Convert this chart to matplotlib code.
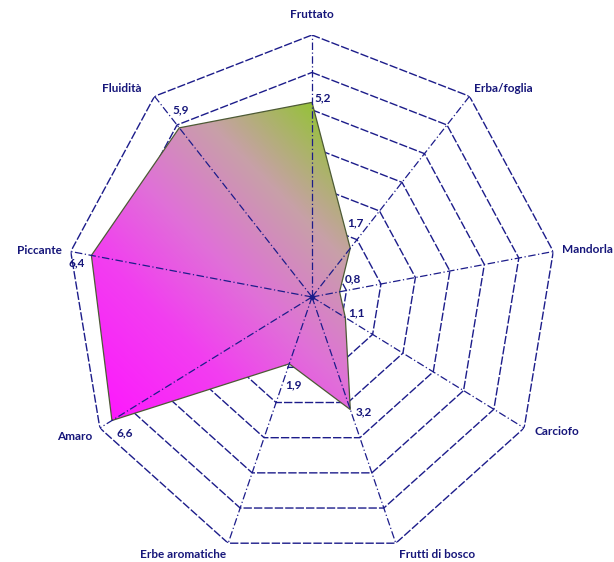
# radar chart (nonagon) with gradient fill
import numpy as np
import matplotlib
matplotlib.use("Agg")
from matplotlib import pyplot as plt
from matplotlib.colors import LinearSegmentedColormap

categories = ["Fruttato", "Erba/foglia", "Mandorla", "Carciofo", "Frutti di bosco",
              "Erbe aromatiche", "Amaro", "Piccante", "Fluidità"]
values = [5.2, 1.7, 0.8, 1.1, 3.2, 1.9, 6.6, 6.4, 5.9]
value_labels = ["5,2", "1,7", "0,8", "1,1", "3,2", "1,9", "6,6", "6,4", "5,9"]
rings = [1, 2, 3, 4, 5, 6, 7]

navy = "#1c1c8a"
text_col = "#16167a"
plt.rcParams["font.family"] = ["Lato", "DejaVu Sans"]

fig = plt.figure(figsize=(6.14, 5.62), dpi=100)
ax = fig.add_axes([67 / 614, 3 / 562, 490 / 614, 524 / 562], projection="polar")
ax.set_aspect("auto")
ax.set_theta_zero_location("N")
ax.set_theta_direction(-1)
ax.set_facecolor("none")
ax.grid(False)
ax.spines["polar"].set_visible(False)
ax.set_xticks([])
ax.set_yticks([])

n = len(categories)
theta = np.arange(n) * 2 * np.pi / n
theta_c = np.append(theta, theta[0])

# rings
for r in rings:
    ax.plot(theta_c, [r] * (n + 1), color=navy, lw=1.0, ls=(0, (6, 1.5)), zorder=1)

# spokes
for th in theta:
    ax.plot([th, th], [0, rings[-1]], color=navy, lw=0.9, ls=(0, (6, 2, 1, 2)), zorder=4)
ax.plot([0], [0], "o", color=navy, ms=3, zorder=4)

# polygon outline
vals_c = np.append(values, values[0])
poly = ax.fill(theta_c, vals_c, facecolor="none", edgecolor="#4d5a35", lw=0.9, zorder=3)[0]
ax.set_ylim(0, rings[-1])
ax.set_xlim(0, 2 * np.pi)

# gradient, bottom-left magenta -> top-right green
pts = ax.transAxes.inverted().transform(ax.transData.transform(np.column_stack([theta, values])))
bx0, by0 = pts.min(axis=0)
bx1, by1 = pts.max(axis=0)
gx, gy = np.meshgrid(np.linspace(0, 1, 500), np.linspace(0, 1, 500))
t = np.clip(0.45 * (gx - bx0) / (bx1 - bx0) + 0.55 * (gy - by0) / (by1 - by0), 0, 1)
cmap = LinearSegmentedColormap.from_list("grad", [
    (0.0, "#ff14ff"), (0.3, "#f23ef0"), (0.5, "#e070d8"),
    (0.72, "#c8a0a8"), (0.95, "#92c432"), (1.0, "#8ec42c")])
im = ax.imshow(t, cmap=cmap, extent=[0, 1, 0, 1], origin="lower", transform=ax.transAxes,
               aspect="auto", interpolation="bilinear", zorder=2, vmin=0, vmax=1)
im.set_clip_path(poly)
ax.set_ylim(0, rings[-1])
ax.set_xlim(0, 2 * np.pi)
ax.set_aspect("auto")

# category labels: (ha, dx, dy) in pixels
cat_pos = [("center", 0, 21), ("left", 5, 8), ("left", 9, 2), ("left", 10, -4),
           ("left", 3, -11), ("right", -2, -11), ("right", -8, -8), ("right", -9, 1),
           ("right", -13, 8)]
for th, lab, (ha, dx, dy) in zip(theta, categories, cat_pos):
    ax.annotate(lab, (th, rings[-1]), xytext=(dx, dy), textcoords="offset pixels",
                ha=ha, va="center", fontsize=8.5, fontweight="bold", color=text_col,
                annotation_clip=False, zorder=5)

# value labels
val_pos = [("left", 2, 5), ("left", -3, 25), ("left", 5, 13), ("left", 3, 5),
           ("left", 5, -2), ("left", -4, -21), ("left", 5, -12), ("right", -7, -7),
           ("left", -7, 18)]
for th, v, lab, (ha, dx, dy) in zip(theta, values, value_labels, val_pos):
    ax.annotate(lab, (th, v), xytext=(dx, dy), textcoords="offset pixels",
                ha=ha, va="center", fontsize=8.5, fontweight="bold", color=text_col,
                annotation_clip=False, zorder=5)

fig.savefig("out.png", dpi=100)
